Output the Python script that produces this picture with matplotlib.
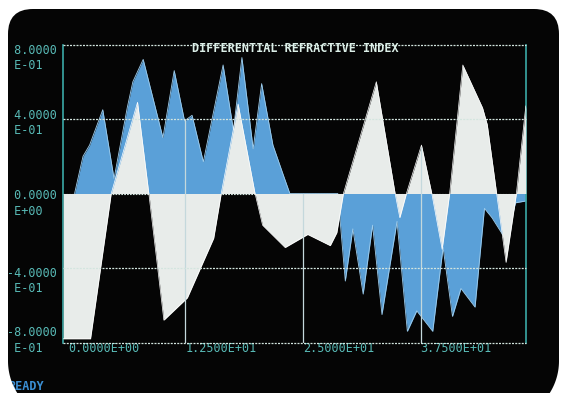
import numpy as np
import matplotlib
matplotlib.use('Agg')
import matplotlib.pyplot as plt
from matplotlib.patches import FancyBboxPatch, Polygon
from matplotlib.transforms import offset_copy

# ---------------- data ----------------
blue_x = [0.7, 1.6, 2.3, 3.7, 4.9, 6.3, 6.9, 8.0, 10.1, 11.3, 12.4, 13.2, 14.4,
          16.5, 17.6, 18.5, 19.7, 20.6, 21.8, 22.9, 23.6, 28.7, 29.5, 30.3,
          31.4, 32.4, 33.4, 35.0, 36.1, 37.1, 38.8, 39.9, 40.9, 41.8, 43.3,
          44.3, 45.1, 46.6, 47.6, 48.7]
blue_y = [0.0, 0.20, 0.26, 0.45, 0.08, 0.46, 0.60, 0.72, 0.30, 0.66, 0.39, 0.42,
          0.17, 0.69, 0.34, 0.73, 0.24, 0.59, 0.26, 0.10, 0.0, 0.0, -0.47,
          -0.19, -0.54, -0.17, -0.65, -0.15, -0.74, -0.63, -0.74, -0.29, -0.66,
          -0.51, -0.61, -0.08, -0.13, -0.25, -0.05, -0.04]

white_x = [-0.5, 2.4, 4.6, 7.4, 8.6, 10.2, 12.7, 15.5, 16.3, 18.1, 19.9, 20.7,
           23.1, 25.5, 27.9, 28.6, 29.3, 32.8, 34.8, 35.3, 36.0, 37.6, 38.7,
           39.8, 40.6, 42.0, 44.1, 44.6, 45.6, 46.6, 47.7, 48.7]
white_y = [-0.78, -0.78, 0.0, 0.49, 0.0, -0.68, -0.56, -0.24, 0.0, 0.48, 0.0,
           -0.17, -0.29, -0.22, -0.28, -0.21, 0.0, 0.60, 0.0, -0.13, 0.0, 0.26,
           0.0, -0.30, 0.0, 0.69, 0.46, 0.37, 0.0, -0.37, 0.0, 0.47]

xtick_vals = [0.0, 12.5, 25.0, 37.5]
xtick_labels = ['0.0000E+00', '1.2500E+01', '2.5000E+01', '3.7500E+01']
ytick_vals = [0.8, 0.4, 0.0, -0.4, -0.8]
ytick_labels = [' 8.0000\n E-01', ' 4.0000\n E-01', ' 0.0000\n E+00',
                '-4.0000\n E-01', '-8.0000\n E-01']
title = 'DIFFERENTIAL REFRACTIVE INDEX'
status = 'READY'

# ---------------- style ----------------
W, H = 561, 393
MONO = 'DejaVu Sans Mono'
TEAL = '#58bab6'
GRID = '#d3e5df'
BLUE = '#5aa0d8'
WHITE = '#e8ecea'
DOT = (0, (1.6, 1.0))

fig = plt.figure(figsize=(W / 100, H / 100), dpi=100)
fig.patch.set_facecolor('white')

bg = fig.add_axes([0, 0, 1, 1])
bg.set_xlim(0, W)
bg.set_ylim(H, 0)
bg.axis('off')
bg.set_zorder(0)
screen = FancyBboxPatch((8, 9), 551, 420, boxstyle='round,pad=0,rounding_size=25',
                        fc='#050505', ec='none', zorder=1)
bg.add_patch(screen)
bg.text(8, 387, status, color='#3b8fd4', family=MONO, fontsize=8.5,
        fontweight='bold', ha='left', va='center', zorder=3)

# large rounded lower corners of the CRT screen (drawn as white masks)
R, cy = 60, 361
t = np.linspace(0, np.pi / 2, 40)
left_arc = np.column_stack([8 + R - R * np.cos(t), cy + R * np.sin(t)])
right_arc = np.column_stack([559 - R + R * np.cos(t), cy + R * np.sin(t)])
left_mask = np.vstack([[[0, cy - 5], [8, cy - 5]], left_arc, [[8 + R, H + 40], [0, H + 40]]])
right_mask = np.vstack([[[W, cy - 5], [559, cy - 5]], right_arc, [[559 - R, H + 40], [W, H + 40]]])
bg.add_patch(Polygon(left_mask, closed=True, fc='white', ec='none', zorder=5))
bg.add_patch(Polygon(right_mask, closed=True, fc='white', ec='none', zorder=5))

ax = fig.add_axes([63 / W, 1 - 342.5 / H, 463 / W, 298 / H])
ax.set_zorder(1)
ax.set_facecolor('none')
ax.set_xlim(-0.53, 48.72)
ax.set_ylim(-0.8, 0.8)
ax.set_xticks([])
ax.set_yticks([])
for s in ['top', 'bottom']:
    ax.spines[s].set_visible(False)
for s in ['left', 'right']:
    ax.spines[s].set_color('#3aa9a6')
    ax.spines[s].set_linewidth(1.2)

bx = np.array(blue_x); by = np.array(blue_y)
wx = np.array(white_x); wy = np.array(white_y)

ax.axhline(0, color=GRID, lw=0.8, ls=DOT, zorder=1)
ax.fill_between(bx, 0, by, color=BLUE, lw=0, zorder=2)
ax.plot(bx, by, color='#9fcdec', lw=0.6, zorder=2.1)
ax.fill_between(wx, 0, wy, color=WHITE, lw=0, zorder=3)
ax.plot(wx, wy, color='#ffffff', lw=0.5, zorder=3.1)

# vertical grid lines (visible below zero and inside the filled areas)
for xv in xtick_vals[1:]:
    top = max(0.0, np.interp(xv, bx, by, left=0, right=0),
              np.interp(xv, wx, wy, left=0, right=0))
    ax.plot([xv, xv], [-0.8, top], color='#c4d8dc', lw=0.9, zorder=4)

for yv in ytick_vals:
    if yv == 0.0:
        continue
    ax.axhline(yv, color=GRID, lw=0.9, ls=DOT, zorder=5, clip_on=False)

# tick labels
xtr = offset_copy(ax.transData, fig=fig, y=-6.5 * 0.72, units='points')
for v, s in zip(xtick_vals, xtick_labels):
    ax.text(v, -0.8, s, transform=xtr, ha='left', va='center', color=TEAL,
            family=MONO, fontsize=8.5, clip_on=False)

y_offsets_px = [13.5, 4, 10, 13, -2]
for v, s, off in zip(ytick_vals, ytick_labels, y_offsets_px):
    tr = offset_copy(ax.get_yaxis_transform(), fig=fig, y=-off * 0.72, units='points')
    ax.text(-0.121, v, s, transform=tr, ha='left', va='center', color=TEAL,
            family=MONO, fontsize=8.5, linespacing=1.25, clip_on=False)

ttr = offset_copy(ax.transAxes, fig=fig, y=-4 * 0.72, units='points')
ax.text(0.502, 1.0, title, transform=ttr, ha='center', va='center',
        color='#dcefe8', family=MONO, fontsize=8.5, fontweight='bold', zorder=6)

fig.savefig('out.png', dpi=100, facecolor=fig.get_facecolor())
